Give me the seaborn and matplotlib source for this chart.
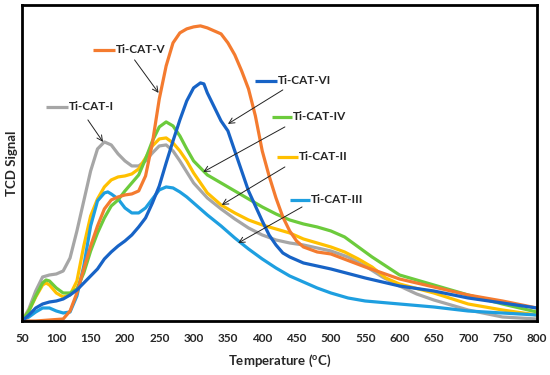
import numpy as np
import pandas as pd
import matplotlib
matplotlib.use('Agg')
import matplotlib.pyplot as plt
import seaborn as sns

# TPD profiles (temperature in degC, signal in arbitrary units)
t_cat1 = [50, 60, 70, 80, 90, 100, 110, 120, 130, 140, 150, 160, 170, 180, 190, 200, 210, 220, 230, 240, 250, 260,
          270, 280, 290, 300, 320, 340, 360, 380, 400, 420, 440, 460, 480, 500, 525, 550, 575, 600, 625, 650, 700, 750, 800]
s_cat1 = [0, 12, 30, 44, 46, 47, 50, 63, 90, 120, 150, 172, 179, 176, 167, 160, 155, 155, 160, 168, 175, 176,
          170, 160, 149, 138, 123, 112, 102, 93, 86, 81, 78, 76, 73, 70, 64, 55, 44, 35, 27, 21, 11, 4, 2]

t_cat2 = [50, 60, 70, 80, 85, 90, 100, 110, 120, 130, 140, 150, 160, 170, 180, 190, 200, 210, 220, 230, 240, 250, 260,
          270, 280, 290, 300, 320, 340, 360, 380, 400, 420, 440, 460, 480, 500, 520, 540, 560, 580, 600, 650, 700, 750, 800]
s_cat2 = [0, 10, 24, 36, 38, 36, 28, 24, 26, 40, 75, 105, 122, 134, 141, 144, 145, 147, 152, 163, 175, 182, 183,
          178, 170, 160, 148, 128, 116, 108, 101, 96, 92, 88, 82, 78, 74, 69, 62, 54, 43, 37, 28, 17, 11, 6]

t_cat3 = [50, 60, 70, 80, 90, 100, 110, 120, 130, 140, 150, 160, 170, 175, 180, 190, 200, 210, 220, 230, 240, 250, 260,
          270, 280, 290, 300, 320, 340, 360, 380, 400, 420, 440, 460, 480, 500, 525, 550, 600, 650, 700, 750, 800]
s_cat3 = [0, 4, 9, 13, 13, 10, 8, 9, 25, 55, 95, 120, 128, 129, 127, 122, 113, 108, 108, 113, 122, 131, 134,
          133, 129, 124, 118, 106, 95, 83, 72, 62, 53, 45, 39, 33, 28, 23, 20, 17, 14, 10, 8, 6]

t_cat4 = [50, 60, 70, 80, 85, 90, 100, 110, 120, 130, 140, 150, 160, 170, 180, 190, 200, 210, 220, 230, 240, 250, 260,
          270, 280, 290, 300, 320, 340, 360, 380, 400, 420, 440, 460, 480, 500, 520, 540, 560, 580, 600, 650, 700, 750, 800]
s_cat4 = [0, 10, 25, 38, 41, 40, 33, 28, 28, 32, 48, 70, 88, 103, 115, 121, 130, 138, 146, 162, 180, 194, 199,
          195, 185, 172, 160, 146, 138, 130, 122, 114, 107, 101, 97, 94, 90, 84, 74, 64, 55, 46, 36, 26, 17, 9]

t_cat5 = [50, 70, 90, 110, 120, 130, 140, 150, 160, 170, 180, 190, 200, 210, 220, 230, 240, 250, 260, 270, 280, 290,
          300, 310, 320, 330, 340, 350, 360, 370, 380, 390, 400, 410, 420, 430, 440, 450, 460, 480, 500, 550, 600, 650,
          700, 750, 800]
s_cat5 = [0, 0, 1, 2, 10, 28, 52, 75, 95, 112, 121, 124, 126, 127, 130, 145, 178, 222, 255, 278, 288, 292,
          294, 295, 293, 290, 287, 278, 266, 250, 232, 205, 170, 145, 123, 104, 90, 80, 74, 69, 67, 54, 42, 34,
          26, 20, 13]

t_cat6 = [50, 60, 70, 80, 90, 100, 110, 120, 130, 140, 150, 160, 170, 180, 190, 200, 210, 220, 230, 240, 250, 260,
          270, 280, 290, 300, 310, 315, 320, 330, 340, 350, 360, 370, 380, 390, 400, 410, 420, 430, 440, 460, 500,
          550, 600, 650, 700, 750, 800]
s_cat6 = [0, 6, 13, 17, 19, 20, 22, 26, 31, 38, 45, 52, 62, 69, 75, 80, 86, 94, 103, 118, 135, 158,
          180, 201, 220, 233, 238, 237, 228, 214, 200, 190, 170, 150, 130, 115, 100, 86, 76, 68, 64, 58, 52,
          43, 35, 30, 23, 18, 13]

names = ['Ti-CAT-I', 'Ti-CAT-II', 'Ti-CAT-III', 'Ti-CAT-IV', 'Ti-CAT-V', 'Ti-CAT-VI']
colors = ['#A6A6A6', '#FFC000', '#1E9FE0', '#6CCB3C', '#F47B2F', '#1763C6']

series = [(t_cat1, s_cat1), (t_cat2, s_cat2), (t_cat3, s_cat3),
          (t_cat4, s_cat4), (t_cat5, s_cat5), (t_cat6, s_cat6)]
frames = []
for name, (t, s) in zip(names, series):
    frames.append(pd.DataFrame({'T': t, 'signal': s, 'sample': name}))
df = pd.concat(frames, ignore_index=True)

sns.set_style('white')
plt.rcParams['font.family'] = ['Lato', 'DejaVu Sans']

fig = plt.figure(figsize=(5.5, 3.75), dpi=100)
ax = fig.add_axes([0.04, 0.144, 0.936, 0.843])

sns.lineplot(data=df, x='T', y='signal', hue='sample', palette=dict(zip(names, colors)),
             linewidth=2.3, sort=False, legend=False, ax=ax,
             solid_joinstyle='round', solid_capstyle='round')

ax.set_xlim(50, 800)
ax.set_ylim(0, 316)
ax.set_xticks(np.arange(50, 801, 50))
ax.set_yticks([])
ax.tick_params(axis='x', length=0, pad=9, labelsize=8.5)
for lab in ax.get_xticklabels():
    lab.set_fontweight('bold')
for sp in ax.spines.values():
    sp.set_color('black')
    sp.set_linewidth(2)

ax.set_xlabel(r'Temperature ($\mathregular{^{o}}$C)', fontsize=9.5, fontweight='bold', labelpad=6)
ax.set_ylabel('TCD Signal', fontsize=9.5, fontweight='bold', labelpad=3)

# manual labels: short coloured line + name, with arrow pointing at the curve
labels = {
    'Ti-CAT-V': ((153, 185), 271, (214, 261), (249, 228)),
    'Ti-CAT-I': ((85, 117), 214, (146, 201), (168, 179)),
    'Ti-CAT-VI': ((389, 421), 240, (430, 231), (350, 197)),
    'Ti-CAT-IV': ((414, 443), 204, (433, 194), (314, 149)),
    'Ti-CAT-II': ((421, 452), 164, (433, 154), (341, 116)),
    'Ti-CAT-III': ((440, 469), 121, (458, 114), (365, 78)),
}
for name, col in zip(names, colors):
    (x0, x1), y, start, end = labels[name]
    ax.plot([x0, x1], [y, y], color=col, lw=2.3, solid_capstyle='butt')
    ax.text(x1 + 2, y, name, fontsize=8.5, fontweight='bold', va='center', ha='left')
    ax.annotate('', xy=end, xytext=start,
                arrowprops=dict(arrowstyle='->', color='#222222', lw=0.7, shrinkA=0, shrinkB=0))

fig.savefig('out.png', dpi=100)
